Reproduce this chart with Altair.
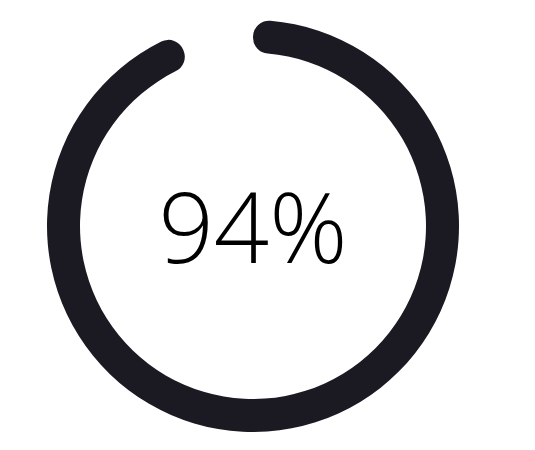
import altair as alt
import pandas as pd

percent = [94]
labels = ["94%"]

df = pd.DataFrame({"start": [0], "value": percent, "label": labels})

base = alt.Chart(df)

arc = base.mark_arc(
    innerRadius=173, outerRadius=206, cornerRadius=16, color="#1b1a23"
).encode(
    theta=alt.Theta("start:Q", scale=alt.Scale(domain=[0, 100], range=[0, 6.283185307])),
    theta2="value:Q",
    x=alt.value(253),
    y=alt.value(226),
)

text = base.mark_text(
    font="Open Sans", fontWeight=300, fontSize=97, color="#000000",
    baseline="alphabetic", align="center"
).encode(
    text="label:N",
    x=alt.value(253),
    y=alt.value(263),
)

chart = alt.layer(arc, text).properties(
    width=535, height=450, padding=0, autosize=alt.AutoSizeParams(type="none")
).configure_view(stroke=None)

chart.save("out.html", embed_options={"renderer": "svg", "actions": False})
